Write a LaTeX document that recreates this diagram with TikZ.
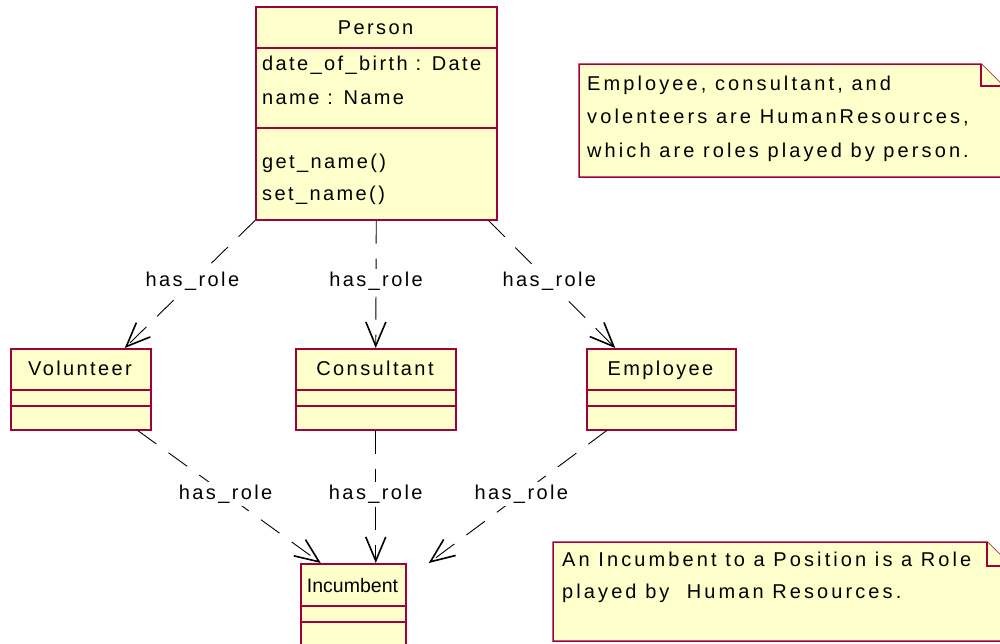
\documentclass[tikz,border=0pt]{standalone}
\usepackage{fontspec}
\setmainfont{Liberation Sans}[LetterSpace=12]
\newfontfamily\notefont{Liberation Sans}[LetterSpace=15.5]
\newfontfamily\narrowfont{Liberation Sans}
\usetikzlibrary{arrows.meta}
\definecolor{umlborder}{RGB}{160,0,60}
\definecolor{umlfill}{RGB}{255,255,204}
\begin{document}
\begin{tikzpicture}[x=1pt,y=-1pt,
  classbox/.style={draw=umlborder, fill=umlfill, line width=1.5pt, rectangle, inner sep=0pt, anchor=north west},
  divider/.style={draw=umlborder, line width=1.2pt},
  notebox/.style={draw=umlborder, fill=umlfill, line width=1.5pt, line join=miter},
  txt/.style={font=\fontsize{20}{33}\selectfont, inner sep=0pt, align=left},
  notetxt/.style={inner sep=0pt, align=left, anchor=base west},
  dep/.style={draw=black, line width=0.9pt, dash pattern=on 23pt off 15pt,
    -{Straight Barb[length=24pt,width=20pt,line width=1.6pt]}},
  rolelabel/.style={font=\fontsize{20}{24}\selectfont, fill=white, inner sep=3pt, pos=0.48}]
\useasboundingbox (0,0) rectangle (1000,643);

% Person class (multi-line texts are placed by their last baseline)
\node[classbox, minimum width=241pt, minimum height=213pt] (person) at (255,6) {};
\draw[divider] (person.west |- 0,48) -- (person.east |- 0,48);
\draw[divider] (person.west |- 0,128) -- (person.east |- 0,128);
\node[txt, anchor=base] (persontitle) at (375.5,34) {Person};
\node[txt, anchor=base west, font=\fontsize{20}{34}\selectfont] (personattrs) at (262,104) {date\_of\_birth : Date\\name : Name};
\node[txt, anchor=base west, font=\fontsize{20}{32}\selectfont] (personops) at (262,200) {get\_name()\\set\_name()};

% Role classes
\node[classbox, minimum width=140pt, minimum height=81pt] (vol) at (10,348) {};
\draw[divider] (vol.west |- 0,390) -- (vol.east |- 0,390);
\draw[divider] (vol.west |- 0,406) -- (vol.east |- 0,406);
\node[txt, anchor=base] (voltitle) at (80,375) {Volunteer};

\node[classbox, minimum width=160pt, minimum height=81pt] (cons) at (295,348) {};
\draw[divider] (cons.west |- 0,390) -- (cons.east |- 0,390);
\draw[divider] (cons.west |- 0,406) -- (cons.east |- 0,406);
\node[txt, anchor=base] (constitle) at (375,375) {Consultant};

\node[classbox, minimum width=149pt, minimum height=81pt] (emp) at (586,348) {};
\draw[divider] (emp.west |- 0,390) -- (emp.east |- 0,390);
\draw[divider] (emp.west |- 0,406) -- (emp.east |- 0,406);
\node[txt, anchor=base] (emptitle) at (660.5,375) {Employee};

% Incumbent class (runs past the lower edge)
\node[classbox, minimum width=105pt, minimum height=95pt] (inc) at (300,563) {};
\draw[divider] (inc.west |- 0,606) -- (inc.east |- 0,606);
\draw[divider] (inc.west |- 0,622) -- (inc.east |- 0,622);
\node[txt, anchor=base, font=\narrowfont\fontsize{19.5}{24}\selectfont] (inctitle) at (352.5,592) {Incumbent};

% Notes with folded corner
\draw[notebox] (579,64) -- (981,64) -- (1003,86) -- (1003,177) -- (579,177) -- cycle;
\draw[notebox] (981,64) -- (981,86) -- (1003,86);
\node[notetxt, font=\notefont\fontsize{20}{33.5}\selectfont] (note1) at (587,157) {Employee, consultant, and\\volenteers are HumanResources,\\which are roles played by person.};

\draw[notebox] (553,542) -- (987,542) -- (1011,566) -- (1011,641) -- (553,641) -- cycle;
\draw[notebox] (987,542) -- (987,566) -- (1011,566);
\node[notetxt, font=\notefont\fontsize{20}{32}\selectfont] (note2) at (562,598) {An Incumbent to a Position is a Role\\played by~ Human Resources.};

% has_role dependencies
\draw[dep] (person.south west) -- node[rolelabel] {has\_role} ([xshift=44pt]vol.north);
\draw[dep] (person.south) -- node[rolelabel] {has\_role} (cons.north);
\draw[dep] ([xshift=-9pt]person.south east) -- node[rolelabel] {has\_role} ([xshift=-46pt]emp.north);

\draw[dep] ([xshift=57pt]vol.south) -- node[rolelabel] {has\_role} ([xshift=-32.5pt]inc.north);
\draw[dep] (cons.south) -- node[rolelabel] {has\_role} ([xshift=22.5pt]inc.north);
\draw[dep] ([xshift=-54.5pt]emp.south) -- node[rolelabel] {has\_role} ([xshift=75.5pt]inc.north);
\end{tikzpicture}
\end{document}
